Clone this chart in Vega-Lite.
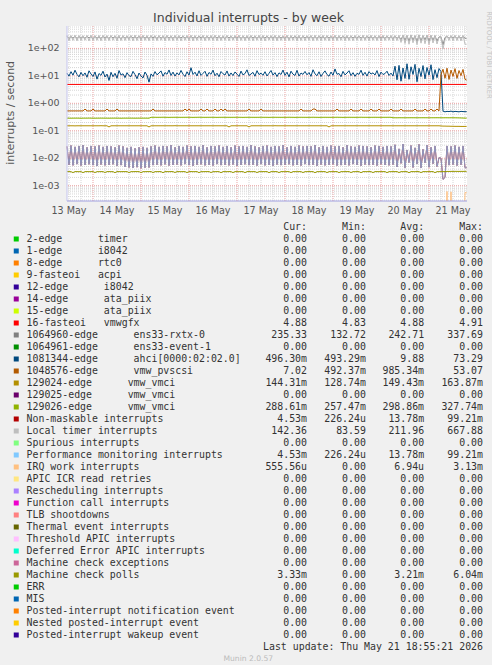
{
"$schema": "https://vega.github.io/schema/vega-lite/v6.json",
"background": "#f0f0f0",
"padding": {"left": 5, "top": 11, "right": 0, "bottom": 0},
"bounds": "flush",
"spacing": 20,
"config": {
  "view": {"stroke": null},
  "line": {"strokeWidth": 1}
},
"datasets": {
"vminor": [{"t":"2026-05-13T12:00"},{"t":"2026-05-13T18:00"},{"t":"2026-05-14T06:00"},{"t":"2026-05-14T12:00"},{"t":"2026-05-14T18:00"},{"t":"2026-05-15T06:00"},{"t":"2026-05-15T12:00"},{"t":"2026-05-15T18:00"},{"t":"2026-05-16T06:00"},{"t":"2026-05-16T12:00"},{"t":"2026-05-16T18:00"},{"t":"2026-05-17T06:00"},{"t":"2026-05-17T12:00"},{"t":"2026-05-17T18:00"},{"t":"2026-05-18T06:00"},{"t":"2026-05-18T12:00"},{"t":"2026-05-18T18:00"},{"t":"2026-05-19T06:00"},{"t":"2026-05-19T12:00"},{"t":"2026-05-19T18:00"},{"t":"2026-05-20T06:00"},{"t":"2026-05-20T12:00"},{"t":"2026-05-20T18:00"},{"t":"2026-05-21T06:00"},{"t":"2026-05-21T12:00"},{"t":"2026-05-21T18:00"}],
"hminor": [{"v":0.0003},{"v":0.0004},{"v":0.0005},{"v":0.0006},{"v":0.0007},{"v":0.0008},{"v":0.0009},{"v":0.002},{"v":0.003},{"v":0.004},{"v":0.005},{"v":0.006},{"v":0.007},{"v":0.008},{"v":0.009},{"v":0.02},{"v":0.03},{"v":0.04},{"v":0.05},{"v":0.06},{"v":0.07},{"v":0.08},{"v":0.09},{"v":0.2},{"v":0.3},{"v":0.4},{"v":0.5},{"v":0.6},{"v":0.7},{"v":0.8},{"v":0.9},{"v":2},{"v":3},{"v":4},{"v":5},{"v":6},{"v":7},{"v":8},{"v":9},{"v":20},{"v":30},{"v":40},{"v":50},{"v":60},{"v":70},{"v":80},{"v":90},{"v":200},{"v":300},{"v":400},{"v":500},{"v":600}],
"vmajor": [{"t":"2026-05-14T00:00"},{"t":"2026-05-15T00:00"},{"t":"2026-05-16T00:00"},{"t":"2026-05-17T00:00"},{"t":"2026-05-18T00:00"},{"t":"2026-05-19T00:00"},{"t":"2026-05-20T00:00"},{"t":"2026-05-21T00:00"}],
"hmajor": [{"v":0.001,"lab":"1e-03"},{"v":0.01,"lab":"1e-02"},{"v":0.1,"lab":"1e-01"},{"v":1,"lab":"1e+00"},{"v":10,"lab":"1e+01"},{"v":100,"lab":"1e+02"}],
"xlabels": [{"t":"2026-05-13T12:00","lab":"13 May"},{"t":"2026-05-14T12:00","lab":"14 May"},{"t":"2026-05-15T12:00","lab":"15 May"},{"t":"2026-05-16T12:00","lab":"16 May"},{"t":"2026-05-17T12:00","lab":"17 May"},{"t":"2026-05-18T12:00","lab":"18 May"},{"t":"2026-05-19T12:00","lab":"19 May"},{"t":"2026-05-20T12:00","lab":"20 May"},{"t":"2026-05-21T12:00","lab":"21 May"}],
"irq16": [{"t":"2026-05-13T11:00","v":4.88},{"t":"2026-05-17T00:00","v":4.87},{"t":"2026-05-21T18:50","v":4.88}],
"hourly": [
{"t":"2026-05-13T11:00","e":275,"l":302,"a":12.5,"p":0.53,"b":0.152,"c":0.288,"n":0.027,"m":0.00325},
{"t":"2026-05-13T12:00","e":230,"l":190,"a":9.8,"p":0.53,"b":0.152,"c":0.288,"n":0.0058,"m":0.00327},
{"t":"2026-05-13T13:00","e":268,"l":295,"a":14.2,"p":0.53,"b":0.152,"c":0.287,"n":0.029,"m":0.00324},
{"t":"2026-05-13T14:00","e":236,"l":196,"a":10.6,"p":0.53,"b":0.152,"c":0.288,"n":0.0055,"m":0.0030},
{"t":"2026-05-13T15:00","e":279,"l":305,"a":16.1,"p":0.53,"b":0.151,"c":0.288,"n":0.026,"m":0.00326},
{"t":"2026-05-13T16:00","e":228,"l":188,"a":11.3,"p":0.53,"b":0.152,"c":0.289,"n":0.0061,"m":0.00325},
{"t":"2026-05-13T17:00","e":271,"l":297,"a":9.2,"p":0.53,"b":0.152,"c":0.288,"n":0.028,"m":0.00323},
{"t":"2026-05-13T18:00","e":234,"l":194,"a":13.4,"p":0.53,"b":0.152,"c":0.286,"n":0.0054,"m":0.00326},
{"t":"2026-05-13T19:00","e":266,"l":291,"a":10.1,"p":0.53,"b":0.152,"c":0.288,"n":0.030,"m":0.00299},
{"t":"2026-05-13T20:00","e":231,"l":199,"a":12.8,"p":0.62,"b":0.152,"c":0.288,"n":0.0057,"m":0.00325},
{"t":"2026-05-13T21:00","e":281,"l":300,"a":8.9,"p":0.53,"b":0.152,"c":0.288,"n":0.025,"m":0.00326},
{"t":"2026-05-13T22:00","e":238,"l":187,"a":15.3,"p":0.53,"b":0.152,"c":0.290,"n":0.0060,"m":0.00324},
{"t":"2026-05-13T23:00","e":270,"l":306,"a":11.7,"p":0.53,"b":0.152,"c":0.288,"n":0.028,"m":0.00325},
{"t":"2026-05-14T00:00","e":226,"l":193,"a":9.5,"p":0.62,"b":0.152,"c":0.288,"n":0.0056,"m":0.00327},
{"t":"2026-05-14T01:00","e":274,"l":294,"a":13.9,"p":0.53,"b":0.152,"c":0.287,"n":0.027,"m":0.00301},
{"t":"2026-05-14T02:00","e":233,"l":197,"a":7.6,"p":0.53,"b":0.152,"c":0.288,"n":0.0052,"m":0.00325},
{"t":"2026-05-14T03:00","e":263,"l":299,"a":12.2,"p":0.53,"b":0.152,"c":0.288,"n":0.029,"m":0.00324},
{"t":"2026-05-14T04:00","e":229,"l":189,"a":10.4,"p":0.53,"b":0.153,"c":0.289,"n":0.0059,"m":0.00326},
{"t":"2026-05-14T05:00","e":277,"l":303,"a":14.8,"p":0.53,"b":0.152,"c":0.288,"n":0.026,"m":0.00325},
{"t":"2026-05-14T06:00","e":235,"l":195,"a":9.1,"p":0.53,"b":0.152,"c":0.288,"n":0.0055,"m":0.00302},
{"t":"2026-05-14T07:00","e":269,"l":296,"a":11.6,"p":0.62,"b":0.152,"c":0.288,"n":0.028,"m":0.00325},
{"t":"2026-05-14T08:00","e":227,"l":191,"a":6.8,"p":0.53,"b":0.138,"c":0.287,"n":0.0057,"m":0.00326},
{"t":"2026-05-14T09:00","e":283,"l":301,"a":13.5,"p":0.53,"b":0.152,"c":0.288,"n":0.027,"m":0.00324},
{"t":"2026-05-14T10:00","e":237,"l":198,"a":9.3,"p":0.53,"b":0.152,"c":0.288,"n":0.0060,"m":0.00325},
{"t":"2026-05-14T11:00","e":272,"l":293,"a":12.4,"p":0.53,"b":0.152,"c":0.289,"n":0.025,"m":0.00298},
{"t":"2026-05-14T12:00","e":230,"l":186,"a":8.2,"p":0.62,"b":0.152,"c":0.288,"n":0.0053,"m":0.00327},
{"t":"2026-05-14T13:00","e":265,"l":304,"a":15.6,"p":0.53,"b":0.152,"c":0.288,"n":0.029,"m":0.00325},
{"t":"2026-05-14T14:00","e":224,"l":192,"a":10.7,"p":0.53,"b":0.152,"c":0.286,"n":0.0056,"m":0.00324},
{"t":"2026-05-14T15:00","e":276,"l":298,"a":11.9,"p":0.53,"b":0.152,"c":0.288,"n":0.027,"m":0.00326},
{"t":"2026-05-14T16:00","e":232,"l":194,"a":8.6,"p":0.53,"b":0.152,"c":0.288,"n":0.0048,"m":0.00325},
{"t":"2026-05-14T17:00","e":270,"l":291,"a":13.1,"p":0.53,"b":0.152,"c":0.288,"n":0.024,"m":0.00326},
{"t":"2026-05-14T18:00","e":229,"l":197,"a":10.2,"p":0.53,"b":0.152,"c":0.289,"n":0.0046,"m":0.00300},
{"t":"2026-05-14T19:00","e":278,"l":299,"a":9.4,"p":0.53,"b":0.152,"c":0.288,"n":0.026,"m":0.00325},
{"t":"2026-05-14T20:00","e":236,"l":188,"a":14.6,"p":0.53,"b":0.152,"c":0.288,"n":0.0044,"m":0.00324},
{"t":"2026-05-14T21:00","e":267,"l":307,"a":11.1,"p":0.53,"b":0.152,"c":0.287,"n":0.023,"m":0.00327},
{"t":"2026-05-14T22:00","e":231,"l":193,"a":7.9,"p":0.53,"b":0.152,"c":0.288,"n":0.0047,"m":0.00325},
{"t":"2026-05-14T23:00","e":280,"l":295,"a":12.7,"p":0.53,"b":0.152,"c":0.288,"n":0.025,"m":0.00326},
{"t":"2026-05-15T00:00","e":227,"l":190,"a":9.9,"p":0.53,"b":0.152,"c":0.289,"n":0.0043,"m":0.00299},
{"t":"2026-05-15T01:00","e":273,"l":302,"a":8.4,"p":0.53,"b":0.152,"c":0.288,"n":0.026,"m":0.00325},
{"t":"2026-05-15T02:00","e":234,"l":196,"a":13.8,"p":0.53,"b":0.152,"c":0.288,"n":0.0045,"m":0.00324},
{"t":"2026-05-15T03:00","e":264,"l":297,"a":10.5,"p":0.53,"b":0.152,"c":0.288,"n":0.024,"m":0.00326},
{"t":"2026-05-15T04:00","e":230,"l":189,"a":5.9,"p":0.53,"b":0.138,"c":0.287,"n":0.0046,"m":0.00325},
{"t":"2026-05-15T05:00","e":275,"l":303,"a":11.8,"p":0.53,"b":0.152,"c":0.310,"n":0.027,"m":0.00327},
{"t":"2026-05-15T06:00","e":239,"l":195,"a":9.6,"p":0.62,"b":0.152,"c":0.310,"n":0.0056,"m":0.00301},
{"t":"2026-05-15T07:00","e":271,"l":292,"a":14.3,"p":0.53,"b":0.152,"c":0.311,"n":0.029,"m":0.00325},
{"t":"2026-05-15T08:00","e":226,"l":191,"a":10.9,"p":0.53,"b":0.152,"c":0.309,"n":0.0058,"m":0.00324},
{"t":"2026-05-15T09:00","e":282,"l":300,"a":12.6,"p":0.53,"b":0.152,"c":0.310,"n":0.026,"m":0.00326},
{"t":"2026-05-15T10:00","e":233,"l":198,"a":15.2,"p":0.53,"b":0.152,"c":0.310,"n":0.0055,"m":0.00325},
{"t":"2026-05-15T11:00","e":268,"l":296,"a":9.7,"p":0.53,"b":0.152,"c":0.312,"n":0.028,"m":0.00298},
{"t":"2026-05-15T12:00","e":228,"l":187,"a":13.2,"p":0.53,"b":0.152,"c":0.310,"n":0.0060,"m":0.00326},
{"t":"2026-05-15T13:00","e":277,"l":305,"a":11.4,"p":0.53,"b":0.152,"c":0.310,"n":0.027,"m":0.00325},
{"t":"2026-05-15T14:00","e":235,"l":193,"a":16.4,"p":0.53,"b":0.152,"c":0.308,"n":0.0054,"m":0.00324},
{"t":"2026-05-15T15:00","e":269,"l":294,"a":10.3,"p":0.53,"b":0.152,"c":0.310,"n":0.030,"m":0.00327},
{"t":"2026-05-15T16:00","e":231,"l":190,"a":13.7,"p":0.53,"b":0.152,"c":0.310,"n":0.0057,"m":0.00325},
{"t":"2026-05-15T17:00","e":274,"l":301,"a":9.8,"p":0.53,"b":0.153,"c":0.311,"n":0.025,"m":0.00302},
{"t":"2026-05-15T18:00","e":229,"l":196,"a":12.9,"p":0.53,"b":0.152,"c":0.310,"n":0.0059,"m":0.00326},
{"t":"2026-05-15T19:00","e":266,"l":298,"a":10.8,"p":0.53,"b":0.152,"c":0.310,"n":0.028,"m":0.00325},
{"t":"2026-05-15T20:00","e":237,"l":188,"a":15.8,"p":0.53,"b":0.152,"c":0.309,"n":0.0055,"m":0.00324},
{"t":"2026-05-15T21:00","e":279,"l":293,"a":11.5,"p":0.53,"b":0.152,"c":0.310,"n":0.026,"m":0.00326},
{"t":"2026-05-15T22:00","e":232,"l":197,"a":9.4,"p":0.62,"b":0.152,"c":0.310,"n":0.0061,"m":0.00325},
{"t":"2026-05-15T23:00","e":271,"l":299,"a":14.1,"p":0.53,"b":0.152,"c":0.311,"n":0.029,"m":0.00300},
{"t":"2026-05-16T00:00","e":227,"l":192,"a":10.6,"p":0.62,"b":0.152,"c":0.310,"n":0.0056,"m":0.00325},
{"t":"2026-05-16T01:00","e":276,"l":304,"a":19.8,"p":0.53,"b":0.152,"c":0.310,"n":0.027,"m":0.00327},
{"t":"2026-05-16T02:00","e":234,"l":187,"a":11.2,"p":0.53,"b":0.152,"c":0.308,"n":0.0053,"m":0.00324},
{"t":"2026-05-16T03:00","e":265,"l":296,"a":13.6,"p":0.53,"b":0.152,"c":0.310,"n":0.028,"m":0.00325},
{"t":"2026-05-16T04:00","e":230,"l":195,"a":9.9,"p":0.53,"b":0.152,"c":0.310,"n":0.0058,"m":0.00326},
{"t":"2026-05-16T05:00","e":283,"l":291,"a":15.4,"p":0.53,"b":0.152,"c":0.312,"n":0.026,"m":0.00299},
{"t":"2026-05-16T06:00","e":236,"l":199,"a":10.4,"p":0.62,"b":0.152,"c":0.310,"n":0.0060,"m":0.00325},
{"t":"2026-05-16T07:00","e":270,"l":302,"a":12.3,"p":0.53,"b":0.152,"c":0.310,"n":0.030,"m":0.00324},
{"t":"2026-05-16T08:00","e":229,"l":190,"a":14.7,"p":0.53,"b":0.152,"c":0.309,"n":0.0055,"m":0.00326},
{"t":"2026-05-16T09:00","e":274,"l":295,"a":9.6,"p":0.62,"b":0.152,"c":0.310,"n":0.025,"m":0.00325},
{"t":"2026-05-16T10:00","e":233,"l":196,"a":13.3,"p":0.53,"b":0.152,"c":0.310,"n":0.0057,"m":0.00327},
{"t":"2026-05-16T11:00","e":268,"l":300,"a":11.4,"p":0.53,"b":0.152,"c":0.311,"n":0.028,"m":0.00301},
{"t":"2026-05-16T12:00","e":228,"l":193,"a":16.2,"p":0.53,"b":0.152,"c":0.310,"n":0.0054,"m":0.00325},
{"t":"2026-05-16T13:00","e":279,"l":306,"a":10.1,"p":0.62,"b":0.152,"c":0.310,"n":0.027,"m":0.00324},
{"t":"2026-05-16T14:00","e":235,"l":189,"a":12.5,"p":0.53,"b":0.152,"c":0.308,"n":0.0061,"m":0.00326},
{"t":"2026-05-16T15:00","e":272,"l":297,"a":9.3,"p":0.53,"b":0.152,"c":0.310,"n":0.029,"m":0.00325},
{"t":"2026-05-16T16:00","e":231,"l":192,"a":14.4,"p":0.62,"b":0.152,"c":0.310,"n":0.0056,"m":0.00298},
{"t":"2026-05-16T17:00","e":266,"l":294,"a":11.9,"p":0.53,"b":0.152,"c":0.311,"n":0.026,"m":0.00326},
{"t":"2026-05-16T18:00","e":226,"l":198,"a":10.7,"p":0.62,"b":0.152,"c":0.310,"n":0.0058,"m":0.00325},
{"t":"2026-05-16T19:00","e":280,"l":303,"a":15.1,"p":0.53,"b":0.152,"c":0.310,"n":0.028,"m":0.00324},
{"t":"2026-05-16T20:00","e":237,"l":188,"a":9.8,"p":0.53,"b":0.138,"c":0.310,"n":0.0055,"m":0.00327},
{"t":"2026-05-16T21:00","e":273,"l":292,"a":12.8,"p":0.53,"b":0.152,"c":0.309,"n":0.025,"m":0.00325},
{"t":"2026-05-16T22:00","e":230,"l":197,"a":10.2,"p":0.53,"b":0.152,"c":0.310,"n":0.0059,"m":0.00300},
{"t":"2026-05-16T23:00","e":267,"l":299,"a":13.9,"p":0.53,"b":0.152,"c":0.310,"n":0.029,"m":0.00326},
{"t":"2026-05-17T00:00","e":234,"l":191,"a":11.6,"p":0.53,"b":0.152,"c":0.312,"n":0.0053,"m":0.00325},
{"t":"2026-05-17T01:00","e":276,"l":305,"a":9.5,"p":0.53,"b":0.152,"c":0.310,"n":0.027,"m":0.00324},
{"t":"2026-05-17T02:00","e":229,"l":194,"a":14.9,"p":0.53,"b":0.152,"c":0.310,"n":0.0057,"m":0.00326},
{"t":"2026-05-17T03:00","e":271,"l":296,"a":10.8,"p":0.53,"b":0.152,"c":0.308,"n":0.028,"m":0.00325},
{"t":"2026-05-17T04:00","e":232,"l":190,"a":12.1,"p":0.53,"b":0.152,"c":0.310,"n":0.0060,"m":0.00299},
{"t":"2026-05-17T05:00","e":265,"l":298,"a":16.6,"p":0.53,"b":0.152,"c":0.310,"n":0.026,"m":0.00325},
{"t":"2026-05-17T06:00","e":228,"l":195,"a":10.3,"p":0.62,"b":0.138,"c":0.311,"n":0.0056,"m":0.00327},
{"t":"2026-05-17T07:00","e":278,"l":301,"a":11.7,"p":0.53,"b":0.152,"c":0.310,"n":0.030,"m":0.00324},
{"t":"2026-05-17T08:00","e":236,"l":189,"a":13.4,"p":0.53,"b":0.152,"c":0.310,"n":0.0058,"m":0.00325},
{"t":"2026-05-17T09:00","e":270,"l":293,"a":9.7,"p":0.53,"b":0.152,"c":0.309,"n":0.027,"m":0.00326},
{"t":"2026-05-17T10:00","e":231,"l":197,"a":15.5,"p":0.53,"b":0.152,"c":0.310,"n":0.0054,"m":0.00301},
{"t":"2026-05-17T11:00","e":274,"l":304,"a":11.1,"p":0.53,"b":0.152,"c":0.310,"n":0.025,"m":0.00325},
{"t":"2026-05-17T12:00","e":227,"l":191,"a":12.6,"p":0.62,"b":0.152,"c":0.312,"n":0.0061,"m":0.00324},
{"t":"2026-05-17T13:00","e":268,"l":300,"a":10.5,"p":0.53,"b":0.152,"c":0.310,"n":0.028,"m":0.00326},
{"t":"2026-05-17T14:00","e":235,"l":186,"a":14.2,"p":0.53,"b":0.152,"c":0.310,"n":0.0055,"m":0.00325},
{"t":"2026-05-17T15:00","e":282,"l":294,"a":9.9,"p":0.53,"b":0.152,"c":0.310,"n":0.029,"m":0.00327},
{"t":"2026-05-17T16:00","e":230,"l":199,"a":12.4,"p":0.53,"b":0.152,"c":0.308,"n":0.0057,"m":0.00298},
{"t":"2026-05-17T17:00","e":269,"l":297,"a":15.7,"p":0.53,"b":0.152,"c":0.310,"n":0.026,"m":0.00325},
{"t":"2026-05-17T18:00","e":233,"l":192,"a":10.6,"p":0.53,"b":0.152,"c":0.310,"n":0.0053,"m":0.00324},
{"t":"2026-05-17T19:00","e":275,"l":302,"a":13.1,"p":0.53,"b":0.153,"c":0.311,"n":0.028,"m":0.00326},
{"t":"2026-05-17T20:00","e":229,"l":188,"a":9.4,"p":0.53,"b":0.152,"c":0.310,"n":0.0059,"m":0.00325},
{"t":"2026-05-17T21:00","e":271,"l":296,"a":12.9,"p":0.53,"b":0.152,"c":0.310,"n":0.027,"m":0.00300},
{"t":"2026-05-17T22:00","e":237,"l":195,"a":11.2,"p":0.53,"b":0.152,"c":0.309,"n":0.0056,"m":0.00326},
{"t":"2026-05-17T23:00","e":264,"l":291,"a":16.3,"p":0.53,"b":0.152,"c":0.310,"n":0.030,"m":0.00325},
{"t":"2026-05-18T00:00","e":232,"l":193,"a":10.4,"p":0.53,"b":0.152,"c":0.310,"n":0.0058,"m":0.00324},
{"t":"2026-05-18T01:00","e":277,"l":306,"a":13.6,"p":0.53,"b":0.152,"c":0.310,"n":0.025,"m":0.00327},
{"t":"2026-05-18T02:00","e":226,"l":190,"a":9.2,"p":0.53,"b":0.152,"c":0.312,"n":0.0060,"m":0.00325},
{"t":"2026-05-18T03:00","e":270,"l":299,"a":14.8,"p":0.53,"b":0.152,"c":0.310,"n":0.028,"m":0.00299},
{"t":"2026-05-18T04:00","e":234,"l":196,"a":11.5,"p":0.53,"b":0.152,"c":0.310,"n":0.0055,"m":0.00326},
{"t":"2026-05-18T05:00","e":281,"l":295,"a":10.3,"p":0.53,"b":0.152,"c":0.308,"n":0.026,"m":0.00325},
{"t":"2026-05-18T06:00","e":231,"l":187,"a":15.9,"p":0.53,"b":0.152,"c":0.310,"n":0.0057,"m":0.00324},
{"t":"2026-05-18T07:00","e":267,"l":303,"a":9.8,"p":0.53,"b":0.152,"c":0.310,"n":0.029,"m":0.00326},
{"t":"2026-05-18T08:00","e":228,"l":193,"a":12.7,"p":0.62,"b":0.152,"c":0.311,"n":0.0054,"m":0.00325},
{"t":"2026-05-18T09:00","e":273,"l":298,"a":11.3,"p":0.53,"b":0.152,"c":0.310,"n":0.027,"m":0.00301},
{"t":"2026-05-18T10:00","e":236,"l":191,"a":14.5,"p":0.53,"b":0.152,"c":0.310,"n":0.0061,"m":0.00325},
{"t":"2026-05-18T11:00","e":269,"l":292,"a":10.9,"p":0.53,"b":0.152,"c":0.309,"n":0.028,"m":0.00324},
{"t":"2026-05-18T12:00","e":233,"l":197,"a":13.2,"p":0.53,"b":0.152,"c":0.310,"n":0.0056,"m":0.00327},
{"t":"2026-05-18T13:00","e":276,"l":300,"a":9.6,"p":0.53,"b":0.152,"c":0.310,"n":0.027,"m":0.00325},
{"t":"2026-05-18T14:00","e":230,"l":189,"a":16.7,"p":0.62,"b":0.152,"c":0.312,"n":0.0058,"m":0.00326},
{"t":"2026-05-18T15:00","e":272,"l":304,"a":11.8,"p":0.62,"b":0.152,"c":0.310,"n":0.030,"m":0.00298},
{"t":"2026-05-18T16:00","e":227,"l":194,"a":10.1,"p":0.53,"b":0.152,"c":0.310,"n":0.0053,"m":0.00325},
{"t":"2026-05-18T17:00","e":279,"l":297,"a":14.1,"p":0.53,"b":0.152,"c":0.308,"n":0.025,"m":0.00324},
{"t":"2026-05-18T18:00","e":235,"l":190,"a":9.5,"p":0.53,"b":0.152,"c":0.310,"n":0.0059,"m":0.00326},
{"t":"2026-05-18T19:00","e":266,"l":301,"a":12.3,"p":0.53,"b":0.152,"c":0.310,"n":0.028,"m":0.00325},
{"t":"2026-05-18T20:00","e":229,"l":196,"a":15.2,"p":0.53,"b":0.152,"c":0.311,"n":0.0055,"m":0.00327},
{"t":"2026-05-18T21:00","e":274,"l":299,"a":11.1,"p":0.53,"b":0.152,"c":0.310,"n":0.026,"m":0.00300},
{"t":"2026-05-18T22:00","e":236,"l":188,"a":9.7,"p":0.53,"b":0.138,"c":0.310,"n":0.0057,"m":0.00325},
{"t":"2026-05-18T23:00","e":268,"l":293,"a":13.8,"p":0.53,"b":0.152,"c":0.309,"n":0.029,"m":0.00324},
{"t":"2026-05-19T00:00","e":231,"l":195,"a":10.5,"p":0.53,"b":0.152,"c":0.310,"n":0.0060,"m":0.00326},
{"t":"2026-05-19T01:00","e":280,"l":305,"a":17.9,"p":0.53,"b":0.152,"c":0.310,"n":0.027,"m":0.00325},
{"t":"2026-05-19T02:00","e":228,"l":191,"a":11.4,"p":0.62,"b":0.152,"c":0.312,"n":0.0054,"m":0.00327},
{"t":"2026-05-19T03:00","e":271,"l":298,"a":12.2,"p":0.53,"b":0.152,"c":0.310,"n":0.028,"m":0.00299},
{"t":"2026-05-19T04:00","e":234,"l":197,"a":9.3,"p":0.53,"b":0.152,"c":0.310,"n":0.0056,"m":0.00325},
{"t":"2026-05-19T05:00","e":277,"l":294,"a":14.6,"p":0.53,"b":0.152,"c":0.308,"n":0.025,"m":0.00324},
{"t":"2026-05-19T06:00","e":232,"l":189,"a":10.8,"p":0.53,"b":0.152,"c":0.310,"n":0.0058,"m":0.00326},
{"t":"2026-05-19T07:00","e":266,"l":302,"a":12.7,"p":0.53,"b":0.152,"c":0.310,"n":0.030,"m":0.00325},
{"t":"2026-05-19T08:00","e":229,"l":193,"a":15.4,"p":0.53,"b":0.152,"c":0.311,"n":0.0055,"m":0.00327},
{"t":"2026-05-19T09:00","e":273,"l":296,"a":10.2,"p":0.62,"b":0.152,"c":0.310,"n":0.027,"m":0.00301},
{"t":"2026-05-19T10:00","e":237,"l":190,"a":13.1,"p":0.53,"b":0.152,"c":0.310,"n":0.0061,"m":0.00325},
{"t":"2026-05-19T11:00","e":269,"l":300,"a":9.6,"p":0.53,"b":0.152,"c":0.309,"n":0.026,"m":0.00324},
{"t":"2026-05-19T12:00","e":230,"l":198,"a":12.4,"p":0.53,"b":0.152,"c":0.310,"n":0.0057,"m":0.00326},
{"t":"2026-05-19T13:00","e":282,"l":291,"a":11.3,"p":0.53,"b":0.152,"c":0.310,"n":0.029,"m":0.00325},
{"t":"2026-05-19T14:00","e":233,"l":192,"a":16.1,"p":0.62,"b":0.152,"c":0.312,"n":0.0053,"m":0.00298},
{"t":"2026-05-19T15:00","e":270,"l":307,"a":10.4,"p":0.53,"b":0.152,"c":0.310,"n":0.028,"m":0.00326},
{"t":"2026-05-19T16:00","e":226,"l":195,"a":13.5,"p":0.53,"b":0.152,"c":0.310,"n":0.0059,"m":0.00325},
{"t":"2026-05-19T17:00","e":278,"l":297,"a":9.8,"p":0.53,"b":0.152,"c":0.310,"n":0.027,"m":0.00324},
{"t":"2026-05-19T18:00","e":235,"l":189,"a":14.3,"p":0.53,"b":0.152,"c":0.308,"n":0.0056,"m":0.00327},
{"t":"2026-05-19T19:00","e":267,"l":304,"a":11.6,"p":0.62,"b":0.152,"c":0.310,"n":0.025,"m":0.00325},
{"t":"2026-05-19T20:00","e":231,"l":196,"a":12.9,"p":0.53,"b":0.152,"c":0.310,"n":0.0058,"m":0.00300},
{"t":"2026-05-19T21:00","e":275,"l":293,"a":10.7,"p":0.53,"b":0.152,"c":0.311,"n":0.029,"m":0.00326},
{"t":"2026-05-19T22:00","e":228,"l":191,"a":15.6,"p":0.53,"b":0.152,"c":0.310,"n":0.0054,"m":0.00325},
{"t":"2026-05-19T23:00","e":271,"l":299,"a":9.4,"p":0.62,"b":0.152,"c":0.310,"n":0.028,"m":0.00324},
{"t":"2026-05-20T00:00","e":236,"l":187,"a":13.7,"p":0.53,"b":0.152,"c":0.309,"n":0.0060,"m":0.00326},
{"t":"2026-05-20T01:00","e":264,"l":302,"a":11.2,"p":0.53,"b":0.152,"c":0.310,"n":0.026,"m":0.00325},
{"t":"2026-05-20T02:00","e":230,"l":194,"a":12.1,"p":0.53,"b":0.152,"c":0.310,"n":0.0057,"m":0.00327},
{"t":"2026-05-20T03:00","e":276,"l":295,"a":14.8,"p":0.53,"b":0.152,"c":0.310,"n":0.028,"m":0.00299},
{"t":"2026-05-20T04:00","e":232,"l":198,"a":10.3,"p":0.53,"b":0.152,"c":0.311,"n":0.0055,"m":0.00325},
{"t":"2026-05-20T05:00","e":270,"l":301,"a":12.6,"p":0.62,"b":0.152,"c":0.310,"n":0.027,"m":0.00324},
{"t":"2026-05-20T06:00","e":226,"l":190,"a":9.9,"p":0.53,"b":0.152,"c":0.298,"n":0.0059,"m":0.00326},
{"t":"2026-05-20T07:00","e":281,"l":296,"a":22.5,"p":0.53,"b":0.152,"c":0.298,"n":0.031,"m":0.00325},
{"t":"2026-05-20T08:00","e":229,"l":193,"a":7.2,"p":0.53,"b":0.152,"c":0.297,"n":0.0048,"m":0.00327},
{"t":"2026-05-20T09:00","e":268,"l":304,"a":24.1,"p":0.53,"b":0.152,"c":0.299,"n":0.022,"m":0.00301},
{"t":"2026-05-20T10:00","e":208,"l":165,"a":6.4,"p":0.62,"b":0.152,"c":0.298,"n":0.0065,"m":0.00325},
{"t":"2026-05-20T11:00","e":292,"l":310,"a":19.3,"p":0.53,"b":0.152,"c":0.298,"n":0.033,"m":0.00324},
{"t":"2026-05-20T12:00","e":196,"l":150,"a":8.1,"p":0.53,"b":0.152,"c":0.297,"n":0.0045,"m":0.00326},
{"t":"2026-05-20T13:00","e":288,"l":305,"a":27.6,"p":0.53,"b":0.152,"c":0.298,"n":0.020,"m":0.00325},
{"t":"2026-05-20T14:00","e":185,"l":142,"a":7.5,"p":0.53,"b":0.152,"c":0.298,"n":0.0070,"m":0.00298},
{"t":"2026-05-20T15:00","e":296,"l":312,"a":21.4,"p":0.53,"b":0.152,"c":0.299,"n":0.029,"m":0.00326},
{"t":"2026-05-20T16:00","e":201,"l":160,"a":11.2,"p":0.53,"b":0.152,"c":0.298,"n":0.0046,"m":0.00325},
{"t":"2026-05-20T17:00","e":284,"l":300,"a":26.3,"p":0.62,"b":0.152,"c":0.298,"n":0.024,"m":0.00324},
{"t":"2026-05-20T18:00","e":178,"l":138,"a":6.1,"p":0.53,"b":0.152,"c":0.297,"n":0.0062,"m":0.00327},
{"t":"2026-05-20T19:00","e":299,"l":315,"a":18.9,"p":0.53,"b":0.152,"c":0.298,"n":0.032,"m":0.00325},
{"t":"2026-05-20T20:00","e":190,"l":155,"a":9.4,"p":0.53,"b":0.152,"c":0.298,"n":0.0044,"m":0.00300},
{"t":"2026-05-20T21:00","e":286,"l":302,"a":23.7,"p":0.53,"b":0.152,"c":0.299,"n":0.021,"m":0.00326},
{"t":"2026-05-20T22:00","e":205,"l":148,"a":7.8,"p":0.62,"b":0.152,"c":0.298,"n":0.0068,"m":0.00325},
{"t":"2026-05-20T23:00","e":293,"l":308,"a":20.2,"p":0.53,"b":0.152,"c":0.298,"n":0.030,"m":0.00324},
{"t":"2026-05-21T00:00","e":182,"l":140,"a":10.6,"p":0.53,"b":0.152,"c":0.297,"n":0.0047,"m":0.00326},
{"t":"2026-05-21T01:00","e":290,"l":303,"a":25.4,"p":0.62,"b":0.152,"c":0.298,"n":0.025,"m":0.00325},
{"t":"2026-05-21T02:00","e":199,"l":158,"a":7.3,"p":0.53,"b":0.152,"c":0.298,"n":0.0063,"m":0.00327},
{"t":"2026-05-21T03:00","e":287,"l":298,"a":16.8,"p":0.53,"b":0.152,"c":0.298,"n":0.028,"m":0.00299},
{"t":"2026-05-21T04:00","e":186,"l":145,"a":8.6,"p":0.62,"b":0.152,"c":0.299,"n":0.0050,"m":0.00325},
{"t":"2026-05-21T05:00","e":262,"l":255,"a":18.5,"p":0.53,"b":0.152,"c":0.298,"n":0.0105,"m":0.00324},
{"t":"2026-05-21T06:00","e":258,"l":250,"a":14.2,"p":11,"b":0.150,"c":0.298,"n":0.0100,"m":0.00326},
{"t":"2026-05-21T07:00","e":135,"l":95,"a":0.52,"p":17.5,"b":0.148,"c":0.297,"n":0.0017,"m":0.00325},
{"t":"2026-05-21T08:00","e":250,"l":205,"a":0.49,"p":8.2,"b":0.148,"c":0.298,"n":0.0020,"m":0.00327,"w":0.000001},
{"t":"2026-05-21T09:00","e":276,"l":290,"a":0.51,"p":19.1,"b":0.147,"c":0.298,"n":0.028,"m":0.00331,"w":0.00062},
{"t":"2026-05-21T10:00","e":231,"l":195,"a":0.50,"p":7.4,"b":0.147,"c":0.297,"n":0.0056,"m":0.00330,"w":0.000001},
{"t":"2026-05-21T11:00","e":270,"l":298,"a":0.52,"p":16.3,"b":0.146,"c":0.298,"n":0.027,"m":0.00332,"w":0.00060},
{"t":"2026-05-21T12:00","e":236,"l":190,"a":0.49,"p":9.6,"b":0.146,"c":0.298,"n":0.0059,"m":0.00331,"w":0.000001},
{"t":"2026-05-21T13:00","e":273,"l":303,"a":0.51,"p":18.4,"b":0.145,"c":0.297,"n":0.029,"m":0.00333},
{"t":"2026-05-21T14:00","e":229,"l":193,"a":0.50,"p":8.1,"b":0.145,"c":0.296,"n":0.0054,"m":0.00332},
{"t":"2026-05-21T15:00","e":268,"l":296,"a":0.49,"p":15.7,"b":0.145,"c":0.295,"n":0.026,"m":0.00331},
{"t":"2026-05-21T16:00","e":234,"l":188,"a":0.51,"p":10.2,"b":0.144,"c":0.293,"n":0.0058,"m":0.00333},
{"t":"2026-05-21T17:00","e":271,"l":300,"a":0.50,"p":17.2,"b":0.144,"c":0.291,"n":0.028,"m":0.00332,"w":0.000001},
{"t":"2026-05-21T18:00","e":235,"l":142,"a":0.496,"p":7.5,"b":0.1443,"c":0.289,"n":0.0045,"m":0.00333,"w":0.00056},
{"t":"2026-05-21T18:50","e":235.33,"l":142.36,"a":0.4963,"p":7.02,"b":0.14431,"c":0.28861,"n":0.00453,"m":0.00333,"w":0.000556}
],
"legend": [
{"r":0,"cur":"Cur:\u00a0\u00a0","min":"Min:\u00a0\u00a0","avg":"Avg:\u00a0\u00a0","max":"Max:\u00a0\u00a0"},
{"r":1,"name":"2-edge\u00a0\u00a0\u00a0\u00a0\u00a0\u00a0timer","cur":"0.00\u00a0","min":"0.00\u00a0","avg":"0.00\u00a0","max":"0.00\u00a0"},
{"r":2,"name":"1-edge\u00a0\u00a0\u00a0\u00a0\u00a0\u00a0i8042","cur":"0.00\u00a0","min":"0.00\u00a0","avg":"0.00\u00a0","max":"0.00\u00a0"},
{"r":3,"name":"8-edge\u00a0\u00a0\u00a0\u00a0\u00a0\u00a0rtc0","cur":"0.00\u00a0","min":"0.00\u00a0","avg":"0.00\u00a0","max":"0.00\u00a0"},
{"r":4,"name":"9-fasteoi\u00a0\u00a0\u00a0acpi","cur":"0.00\u00a0","min":"0.00\u00a0","avg":"0.00\u00a0","max":"0.00\u00a0"},
{"r":5,"name":"12-edge\u00a0\u00a0\u00a0\u00a0\u00a0\u00a0i8042","cur":"0.00\u00a0","min":"0.00\u00a0","avg":"0.00\u00a0","max":"0.00\u00a0"},
{"r":6,"name":"14-edge\u00a0\u00a0\u00a0\u00a0\u00a0\u00a0ata_piix","cur":"0.00\u00a0","min":"0.00\u00a0","avg":"0.00\u00a0","max":"0.00\u00a0"},
{"r":7,"name":"15-edge\u00a0\u00a0\u00a0\u00a0\u00a0\u00a0ata_piix","cur":"0.00\u00a0","min":"0.00\u00a0","avg":"0.00\u00a0","max":"0.00\u00a0"},
{"r":8,"name":"16-fasteoi\u00a0\u00a0\u00a0vmwgfx","cur":"4.88\u00a0","min":"4.83\u00a0","avg":"4.88\u00a0","max":"4.91\u00a0"},
{"r":9,"name":"1064960-edge\u00a0\u00a0\u00a0\u00a0\u00a0\u00a0ens33-rxtx-0","cur":"235.33\u00a0","min":"132.72\u00a0","avg":"242.71\u00a0","max":"337.69\u00a0"},
{"r":10,"name":"1064961-edge\u00a0\u00a0\u00a0\u00a0\u00a0\u00a0ens33-event-1","cur":"0.00\u00a0","min":"0.00\u00a0","avg":"0.00\u00a0","max":"0.00\u00a0"},
{"r":11,"name":"1081344-edge\u00a0\u00a0\u00a0\u00a0\u00a0\u00a0ahci[0000:02:02.0]","cur":"496.30m","min":"493.29m","avg":"9.88\u00a0","max":"73.29\u00a0"},
{"r":12,"name":"1048576-edge\u00a0\u00a0\u00a0\u00a0\u00a0\u00a0vmw_pvscsi","cur":"7.02\u00a0","min":"492.37m","avg":"985.34m","max":"53.07\u00a0"},
{"r":13,"name":"129024-edge\u00a0\u00a0\u00a0\u00a0\u00a0\u00a0vmw_vmci","cur":"144.31m","min":"128.74m","avg":"149.43m","max":"163.87m"},
{"r":14,"name":"129025-edge\u00a0\u00a0\u00a0\u00a0\u00a0\u00a0vmw_vmci","cur":"0.00\u00a0","min":"0.00\u00a0","avg":"0.00\u00a0","max":"0.00\u00a0"},
{"r":15,"name":"129026-edge\u00a0\u00a0\u00a0\u00a0\u00a0\u00a0vmw_vmci","cur":"288.61m","min":"257.47m","avg":"298.86m","max":"327.74m"},
{"r":16,"name":"Non-maskable interrupts","cur":"4.53m","min":"226.24u","avg":"13.78m","max":"99.21m"},
{"r":17,"name":"Local timer interrupts","cur":"142.36\u00a0","min":"83.59\u00a0","avg":"211.96\u00a0","max":"667.88\u00a0"},
{"r":18,"name":"Spurious interrupts","cur":"0.00\u00a0","min":"0.00\u00a0","avg":"0.00\u00a0","max":"0.00\u00a0"},
{"r":19,"name":"Performance monitoring interrupts","cur":"4.53m","min":"226.24u","avg":"13.78m","max":"99.21m"},
{"r":20,"name":"IRQ work interrupts","cur":"555.56u","min":"0.00\u00a0","avg":"6.94u","max":"3.13m"},
{"r":21,"name":"APIC ICR read retries","cur":"0.00\u00a0","min":"0.00\u00a0","avg":"0.00\u00a0","max":"0.00\u00a0"},
{"r":22,"name":"Rescheduling interrupts","cur":"0.00\u00a0","min":"0.00\u00a0","avg":"0.00\u00a0","max":"0.00\u00a0"},
{"r":23,"name":"Function call interrupts","cur":"0.00\u00a0","min":"0.00\u00a0","avg":"0.00\u00a0","max":"0.00\u00a0"},
{"r":24,"name":"TLB shootdowns","cur":"0.00\u00a0","min":"0.00\u00a0","avg":"0.00\u00a0","max":"0.00\u00a0"},
{"r":25,"name":"Thermal event interrupts","cur":"0.00\u00a0","min":"0.00\u00a0","avg":"0.00\u00a0","max":"0.00\u00a0"},
{"r":26,"name":"Threshold APIC interrupts","cur":"0.00\u00a0","min":"0.00\u00a0","avg":"0.00\u00a0","max":"0.00\u00a0"},
{"r":27,"name":"Deferred Error APIC interrupts","cur":"0.00\u00a0","min":"0.00\u00a0","avg":"0.00\u00a0","max":"0.00\u00a0"},
{"r":28,"name":"Machine check exceptions","cur":"0.00\u00a0","min":"0.00\u00a0","avg":"0.00\u00a0","max":"0.00\u00a0"},
{"r":29,"name":"Machine check polls","cur":"3.33m","min":"0.00\u00a0","avg":"3.21m","max":"6.04m"},
{"r":30,"name":"ERR","cur":"0.00\u00a0","min":"0.00\u00a0","avg":"0.00\u00a0","max":"0.00\u00a0"},
{"r":31,"name":"MIS","cur":"0.00\u00a0","min":"0.00\u00a0","avg":"0.00\u00a0","max":"0.00\u00a0"},
{"r":32,"name":"Posted-interrupt notification event","cur":"0.00\u00a0","min":"0.00\u00a0","avg":"0.00\u00a0","max":"0.00\u00a0"},
{"r":33,"name":"Nested posted-interrupt event","cur":"0.00\u00a0","min":"0.00\u00a0","avg":"0.00\u00a0","max":"0.00\u00a0"},
{"r":34,"name":"Posted-interrupt wakeup event","cur":"0.00\u00a0","min":"0.00\u00a0","avg":"0.00\u00a0","max":"0.00\u00a0"},
{"r":35,"max":"Last update: Thu May 21 18:55:21 2026"},
{"r":36,"foot":"Munin 2.0.57"}
]
},
"vconcat": [
{
  "width": 400,
  "height": 175,
  "view": {"fill": "white", "stroke": null},
  "title": {"text": "Individual interrupts - by week", "anchor": "middle", "frame": "group", "dx": -18.5, "offset": -13.5, "font": "DejaVu Sans", "fontSize": 12.5, "fontWeight": "normal", "color": "#444444"},
  "layer": [
    {"data": {"name": "vminor"}, "mark": {"type": "rule", "color": "#d6d6d6", "strokeWidth": 1, "strokeDash": [1, 1]},
     "encoding": {"x": {"field": "t", "type": "temporal", "axis": null}}},
    {"data": {"name": "hminor"}, "mark": {"type": "rule", "color": "#d6d6d6", "strokeWidth": 1, "strokeDash": [1, 1]},
     "encoding": {"y": {"field": "v", "type": "quantitative", "axis": null}}},
    {"data": {"name": "vmajor"}, "mark": {"type": "rule", "color": "#eba3a3", "strokeWidth": 1, "strokeDash": [1, 1]},
     "encoding": {"x": {"field": "t", "type": "temporal", "axis": null}}},
    {"data": {"name": "hmajor"}, "mark": {"type": "rule", "color": "#eba3a3", "strokeWidth": 1, "strokeDash": [1, 1]},
     "encoding": {"y": {"field": "v", "type": "quantitative", "axis": null}}},
    {
      "data": {"name": "irq16"},
      "mark": {"type": "line", "color": "#FF0000", "strokeWidth": 1},
      "encoding": {
        "x": {"field": "t", "type": "temporal",
              "scale": {"domain": [{"year": 2026, "month": 5, "date": 13, "hours": 11}, {"year": 2026, "month": 5, "date": 21, "hours": 19}], "nice": false},
              "axis": null},
        "y": {"field": "v", "type": "quantitative",
              "scale": {"type": "log", "domain": [0.000277, 655], "nice": false},
              "axis": null}
      }
    },
    {"data": {"name": "hourly"}, "mark": {"type": "line", "color": "#808080", "strokeWidth": 1},
     "encoding": {"x": {"field": "t", "type": "temporal", "axis": null}, "y": {"field": "e", "type": "quantitative", "axis": null}}},
    {"data": {"name": "hourly"}, "mark": {"type": "line", "color": "#00487D", "strokeWidth": 1},
     "encoding": {"x": {"field": "t", "type": "temporal", "axis": null}, "y": {"field": "a", "type": "quantitative", "axis": null}}},
    {"data": {"name": "hourly"}, "mark": {"type": "line", "color": "#B35A00", "strokeWidth": 1},
     "encoding": {"x": {"field": "t", "type": "temporal", "axis": null}, "y": {"field": "p", "type": "quantitative", "axis": null}}},
    {"data": {"name": "hourly"}, "mark": {"type": "line", "color": "#B38F00", "strokeWidth": 1},
     "encoding": {"x": {"field": "t", "type": "temporal", "axis": null}, "y": {"field": "b", "type": "quantitative", "axis": null}}},
    {"data": {"name": "hourly"}, "mark": {"type": "line", "color": "#8FB300", "strokeWidth": 1},
     "encoding": {"x": {"field": "t", "type": "temporal", "axis": null}, "y": {"field": "c", "type": "quantitative", "axis": null}}},
    {"data": {"name": "hourly"}, "mark": {"type": "line", "color": "#B30000", "strokeWidth": 1},
     "encoding": {"x": {"field": "t", "type": "temporal", "axis": null}, "y": {"field": "n", "type": "quantitative", "axis": null}}},
    {"data": {"name": "hourly"}, "mark": {"type": "line", "color": "#BEBEBE", "strokeWidth": 1},
     "encoding": {"x": {"field": "t", "type": "temporal", "axis": null}, "y": {"field": "l", "type": "quantitative", "axis": null}}},
    {"data": {"name": "hourly"}, "mark": {"type": "line", "color": "#80C9FF", "strokeWidth": 1, "opacity": 0.75},
     "encoding": {"x": {"field": "t", "type": "temporal", "axis": null}, "y": {"field": "n", "type": "quantitative", "axis": null}}},
    {"data": {"name": "hourly"}, "mark": {"type": "line", "color": "#FFC080", "strokeWidth": 1, "clip": true},
     "encoding": {"x": {"field": "t", "type": "temporal", "axis": null}, "y": {"field": "w", "type": "quantitative", "axis": null}}},
    {"data": {"name": "hourly"}, "mark": {"type": "line", "color": "#999900", "strokeWidth": 1},
     "encoding": {"x": {"field": "t", "type": "temporal", "axis": null}, "y": {"field": "m", "type": "quantitative", "axis": null}}},
    {"data": {"values": [{}]}, "mark": {"type": "rule", "color": "#c4c4ee", "strokeWidth": 1},
     "encoding": {"x": {"datum": {"year": 2026, "month": 5, "date": 13, "hours": 11}, "type": "temporal", "axis": null}}},
    {"data": {"values": [{}]}, "mark": {"type": "rule", "color": "#a0a0e0", "strokeWidth": 1},
     "encoding": {"y": {"datum": 0.000277, "type": "quantitative", "axis": null}}},
    {"data": {"name": "hmajor"},
     "mark": {"type": "text", "align": "right", "baseline": "middle", "font": "DejaVu Sans", "fontSize": 9.5, "color": "#555555"},
     "encoding": {"x": {"datum": {"year": 2026, "month": 5, "date": 13, "hours": 7, "minutes": 18}, "type": "temporal", "axis": null},
                  "y": {"field": "v", "type": "quantitative", "axis": null},
                  "text": {"field": "lab", "type": "nominal"}}},
    {"data": {"name": "xlabels"},
     "mark": {"type": "text", "align": "center", "baseline": "middle", "font": "DejaVu Sans", "fontSize": 9.6, "color": "#555555"},
     "encoding": {"x": {"field": "t", "type": "temporal", "axis": null},
                  "y": {"datum": 0.00012, "type": "quantitative", "axis": null},
                  "text": {"field": "lab", "type": "nominal"}}},
    {"data": {"values": [{}]},
     "mark": {"type": "text", "angle": 270, "align": "center", "baseline": "middle", "font": "DejaVu Sans", "fontSize": 11, "color": "#555555"},
     "encoding": {"x": {"datum": {"year": 2026, "month": 5, "date": 12, "hours": 7, "minutes": 9}, "type": "temporal", "axis": null},
                  "y": {"datum": 0.45, "type": "quantitative", "axis": null},
                  "text": {"value": "interrupts / second"}}},
    {"data": {"values": [{}]},
     "mark": {"type": "text", "angle": 90, "align": "center", "baseline": "middle", "font": "DejaVu Sans", "fontSize": 6.8, "color": "#c4c4c4"},
     "encoding": {"x": {"datum": {"year": 2026, "month": 5, "date": 22, "hours": 6}, "type": "temporal", "axis": null},
                  "y": {"datum": 58, "type": "quantitative", "axis": null},
                  "text": {"value": "RRDTOOL / TOBI OETIKER"}}}
  ]
},
{
  "width": 400,
  "height": {"step": 12},
  "data": {"name": "legend"},
  "encoding": {"y": {"field": "r", "type": "ordinal", "axis": null}},
  "layer": [
    {
      "transform": [{"filter": "datum.r >= 1 && datum.r <= 34"}],
      "mark": {"type": "square", "size": 25, "opacity": 1},
      "encoding": {
        "x": {"datum": -1.73, "type": "quantitative", "scale": {"domain": [6.77, 73.77], "zero": false, "nice": false}, "axis": null},
        "color": {"field": "r", "type": "nominal", "legend": null,
                  "scale": {"domain": [1,2,3,4,5,6,7,8,9,10,11,12,13,14,15,16,17,18,19,20,21,22,23,24,25,26,27,28,29,30,31,32,33,34],
                            "range": ["#00CC00","#0066B3","#FF8000","#FFCC00","#330099","#990099","#CCFF00","#FF0000","#808080","#008F00","#00487D","#B35A00","#B38F00","#6B006B","#8FB300","#B30000","#BEBEBE","#80FF80","#80C9FF","#FFC080","#FFE680","#AA80FF","#EE00CC","#FF8080","#666600","#FFBFFF","#00FFCC","#CC6699","#999900","#00CC00","#0066B3","#FF8000","#FFCC00","#330099"]}}
      }
    },
    {
      "transform": [{"filter": "isValid(datum.name)"}],
      "mark": {"type": "text", "align": "left", "baseline": "middle", "font": "DejaVu Sans Mono", "fontSize": 9.9, "color": "#333333"},
      "encoding": {"x": {"datum": 0, "type": "quantitative"}, "text": {"field": "name", "type": "nominal"}}
    },
    {
      "transform": [{"filter": "isValid(datum.cur)"}],
      "mark": {"type": "text", "align": "right", "baseline": "middle", "font": "DejaVu Sans Mono", "fontSize": 9.9, "color": "#333333"},
      "encoding": {"x": {"datum": 46.97, "type": "quantitative"}, "text": {"field": "cur", "type": "nominal"}}
    },
    {
      "transform": [{"filter": "isValid(datum.min)"}],
      "mark": {"type": "text", "align": "right", "baseline": "middle", "font": "DejaVu Sans Mono", "fontSize": 9.9, "color": "#333333"},
      "encoding": {"x": {"datum": 56.83, "type": "quantitative"}, "text": {"field": "min", "type": "nominal"}}
    },
    {
      "transform": [{"filter": "isValid(datum.avg)"}],
      "mark": {"type": "text", "align": "right", "baseline": "middle", "font": "DejaVu Sans Mono", "fontSize": 9.9, "color": "#333333"},
      "encoding": {"x": {"datum": 66.58, "type": "quantitative"}, "text": {"field": "avg", "type": "nominal"}}
    },
    {
      "transform": [{"filter": "isValid(datum.max)"}],
      "mark": {"type": "text", "align": "right", "baseline": "middle", "font": "DejaVu Sans Mono", "fontSize": 9.9, "color": "#333333"},
      "encoding": {"x": {"datum": 76.45, "type": "quantitative"}, "text": {"field": "max", "type": "nominal"}}
    },
    {
      "transform": [{"filter": "isValid(datum.foot)"}],
      "mark": {"type": "text", "align": "center", "baseline": "middle", "font": "DejaVu Sans", "fontSize": 7.6, "color": "#bbbbbb"},
      "encoding": {"x": {"datum": 37.14, "type": "quantitative"}, "text": {"field": "foot", "type": "nominal"}}
    }
  ]
}
]
}
